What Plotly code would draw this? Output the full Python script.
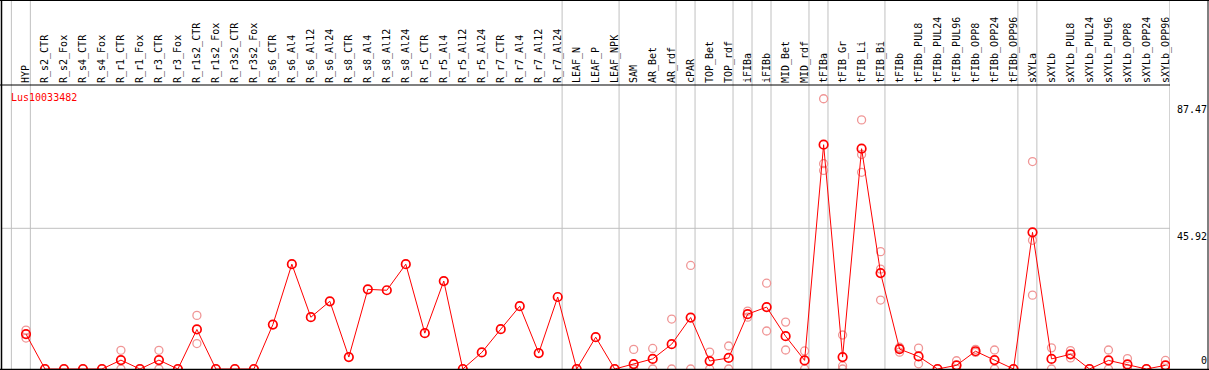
import plotly.graph_objects as go

labels = ["HYP", "R_s2_CTR", "R_s2_Fox", "R_s4_CTR", "R_s4_Fox", "R_r1_CTR", "R_r1_Fox",
          "R_r3_CTR", "R_r3_Fox", "R_r1s2_CTR", "R_r1s2_Fox", "R_r3s2_CTR", "R_r3s2_Fox",
          "R_s6_CTR", "R_s6_Al4", "R_s6_Al12", "R_s6_Al24", "R_s8_CTR", "R_s8_Al4", "R_s8_Al12",
          "R_s8_Al24", "R_r5_CTR", "R_r5_Al4", "R_r5_Al12", "R_r5_Al24", "R_r7_CTR", "R_r7_Al4",
          "R_r7_Al12", "R_r7_Al24", "LEAF_N", "LEAF_P", "LEAF_NPK", "SAM", "AR_Bet", "AR_rdf",
          "cPAR", "TOP_Bet", "TOP_rdf", "iFIBa", "iFIBb", "MID_Bet", "MID_rdf", "tFIBa",
          "tFIB_Gr", "tFIB_Li", "tFIB_Bi", "tFIBb", "tFIBb_PUL8", "tFIBb_PUL24", "tFIBb_PUL96",
          "tFIBb_OPP8", "tFIBb_OPP24", "tFIBb_OPP96", "sXYLa", "sXYLb", "sXYLb_PUL8",
          "sXYLb_PUL24", "sXYLb_PUL96", "sXYLb_OPP8", "sXYLb_OPP24", "sXYLb_OPP96"]

mean_values = [11.4, 0, 0, 0, 0, 2.9, 0, 2.9, 0, 12.9, 0, 0, 0,
               14.5, 34.2, 16.9, 22.1, 3.9, 26.0, 25.7, 34.2, 11.7, 28.7, 0, 5.4,
               13.0, 20.5, 5.2, 23.5, 0, 10.4, 0, 1.6, 3.3, 8.1, 16.8, 2.6, 3.6,
               17.9, 20.2, 10.7, 2.8, 73.2, 3.9, 71.9, 31.3, 6.5, 4.1, 0, 1.2,
               5.8, 2.9, 0, 44.6, 3.3, 4.8, 0, 2.8, 1.5, 0, 1.2]

N = None
rep1 = [12.7, 0, 0, 0, 0, 6.1, 0, 6.1, 0, 17.5, 0, 0, 0,
        N, N, N, N, N, N, N, N, N, N, 0, N,
        N, N, N, N, 0, N, 0, 6.4, 6.7, 16.3, 33.8, 5.5, 7.5,
        18.9, 28.0, 15.3, 5.9, 88.2, 11.1, 81.3, 38.3, 7.1, 6.8, 0, 2.7,
        6.4, 6.2, 0, 67.7, 6.9, 6.0, 0, 6.2, 3.4, 0, 2.8]
rep2 = [10.1, N, N, N, N, 0, N, 0, N, 8.3, N, N, N,
        N, N, N, N, N, N, N, N, N, N, N, N,
        N, N, N, N, N, N, N, 0, 0, 0, 0, 0, 0,
        16.9, 12.4, 6.2, 0, 67.0, 1.0, 70.0, 32.6, 5.5, 1.7, N, 0,
        5.4, 0, N, 42.0, 0, 3.6, N, 0, 0, N, 0]
rep3 = [N, N, N, N, N, N, N, N, N, N, N, N, N,
        N, N, N, N, N, N, N, N, N, N, N, N,
        N, N, N, N, N, N, N, N, N, N, N, N, N,
        N, N, N, N, 64.8, 0, 64.2, 22.5, 6.8, N, N, N,
        N, N, N, 24.1, N, N, N, N, N, N, N]

group_ends = [-1, 0, 28, 31, 34, 35, 37, 38, 39, 41, 42, 45, 52, 53, 60]

gene = "Lus10033482"
ytick_vals = [87.47, 45.92, 0]
ytick_text = ["87.47", "45.92", "0"]

FONT = "DejaVu Sans Mono"
W, H = 1209, 370
PL, PR, PT, PB = 2, 1170, 85, 369


def px_x(p):
    return (p - PL) / (PR - PL)


def px_y(p):
    return (PB - p) / (PB - PT)


xs = list(range(len(labels)))
fig = go.Figure()

rep_color = "rgb(240,150,150)"
for reps in (rep1, rep2, rep3):
    fig.add_trace(go.Scatter(
        x=xs, y=reps, mode="markers",
        marker=dict(symbol="circle-open", size=8, color=rep_color, line=dict(width=1.3, color=rep_color)),
        hoverinfo="skip", showlegend=False))

fig.add_trace(go.Scatter(
    x=xs, y=mean_values, mode="lines+markers",
    line=dict(color="#ff0000", width=1),
    marker=dict(symbol="circle-open", size=8.5, color="#ff0000", line=dict(width=1.7, color="#ff0000")),
    showlegend=False))

shapes = []
gray = "#c0c0c0"
for e in group_ends:
    shapes.append(dict(type="line", xref="x", yref="paper", x0=e + 0.23, x1=e + 0.23,
                       y0=0, y1=px_y(0), line=dict(color=gray, width=1), layer="below"))
# gridline
shapes.append(dict(type="line", xref="paper", yref="y", x0=0, x1=1, y0=ytick_vals[1], y1=ytick_vals[1],
                   line=dict(color=gray, width=1), layer="below"))
black = "#000000"
# frame lines
shapes.append(dict(type="line", xref="paper", yref="paper", x0=px_x(0), x1=px_x(W), y0=px_y(0.5), y1=px_y(0.5),
                   line=dict(color=black, width=1)))
shapes.append(dict(type="line", xref="paper", yref="paper", x0=px_x(0), x1=px_x(W), y0=px_y(369.5), y1=px_y(369.5),
                   line=dict(color=black, width=1.5)))
shapes.append(dict(type="line", xref="paper", yref="paper", x0=px_x(1.5), x1=px_x(1.5), y0=px_y(0), y1=px_y(H),
                   line=dict(color=black, width=1.5)))
shapes.append(dict(type="line", xref="paper", yref="paper", x0=px_x(1208), x1=px_x(1208), y0=px_y(0), y1=px_y(H),
                   line=dict(color=black, width=1)))
shapes.append(dict(type="line", xref="paper", yref="paper", x0=px_x(0), x1=1, y0=px_y(85), y1=px_y(85),
                   line=dict(color=black, width=1)))

annotations = [dict(text=gene, xref="paper", yref="paper", x=px_x(9), y=px_y(97), xanchor="left",
                    yanchor="middle", showarrow=False, font=dict(family=FONT, size=10, color="#ff0000"))]
for v, t in zip(ytick_vals, ytick_text):
    annotations.append(dict(text=t, xref="paper", yref="y", x=px_x(1209), y=v, xanchor="right",
                            yanchor="bottom" if v == 0 else "top", yshift=-1 if v != 0 else 1,
                            showarrow=False, font=dict(family=FONT, size=10, color="#000000")))

fig.update_layout(
    width=W, height=H,
    margin=dict(l=PL, r=W - PR, t=PT, b=H - PB, pad=0),
    paper_bgcolor="white", plot_bgcolor="white",
    shapes=shapes, annotations=annotations,
    xaxis=dict(range=[-1.263, 60.24], side="top", tickmode="array", tickvals=xs, ticktext=labels,
               tickangle=-90, ticks="", showgrid=False, zeroline=False, showline=False,
               ticklabelstandoff=1,
               tickfont=dict(family=FONT, size=10, color="#000000"), fixedrange=True),
    yaxis=dict(range=[0, 92.69], showgrid=False, zeroline=False, showline=False,
               showticklabels=False, ticks="", fixedrange=True),
)

fig.write_html("out.html", config={"displayModeBar": False},
               post_script="document.body.style.margin='0';document.body.style.padding='0';"
                           "document.body.style.overflow='hidden';")
